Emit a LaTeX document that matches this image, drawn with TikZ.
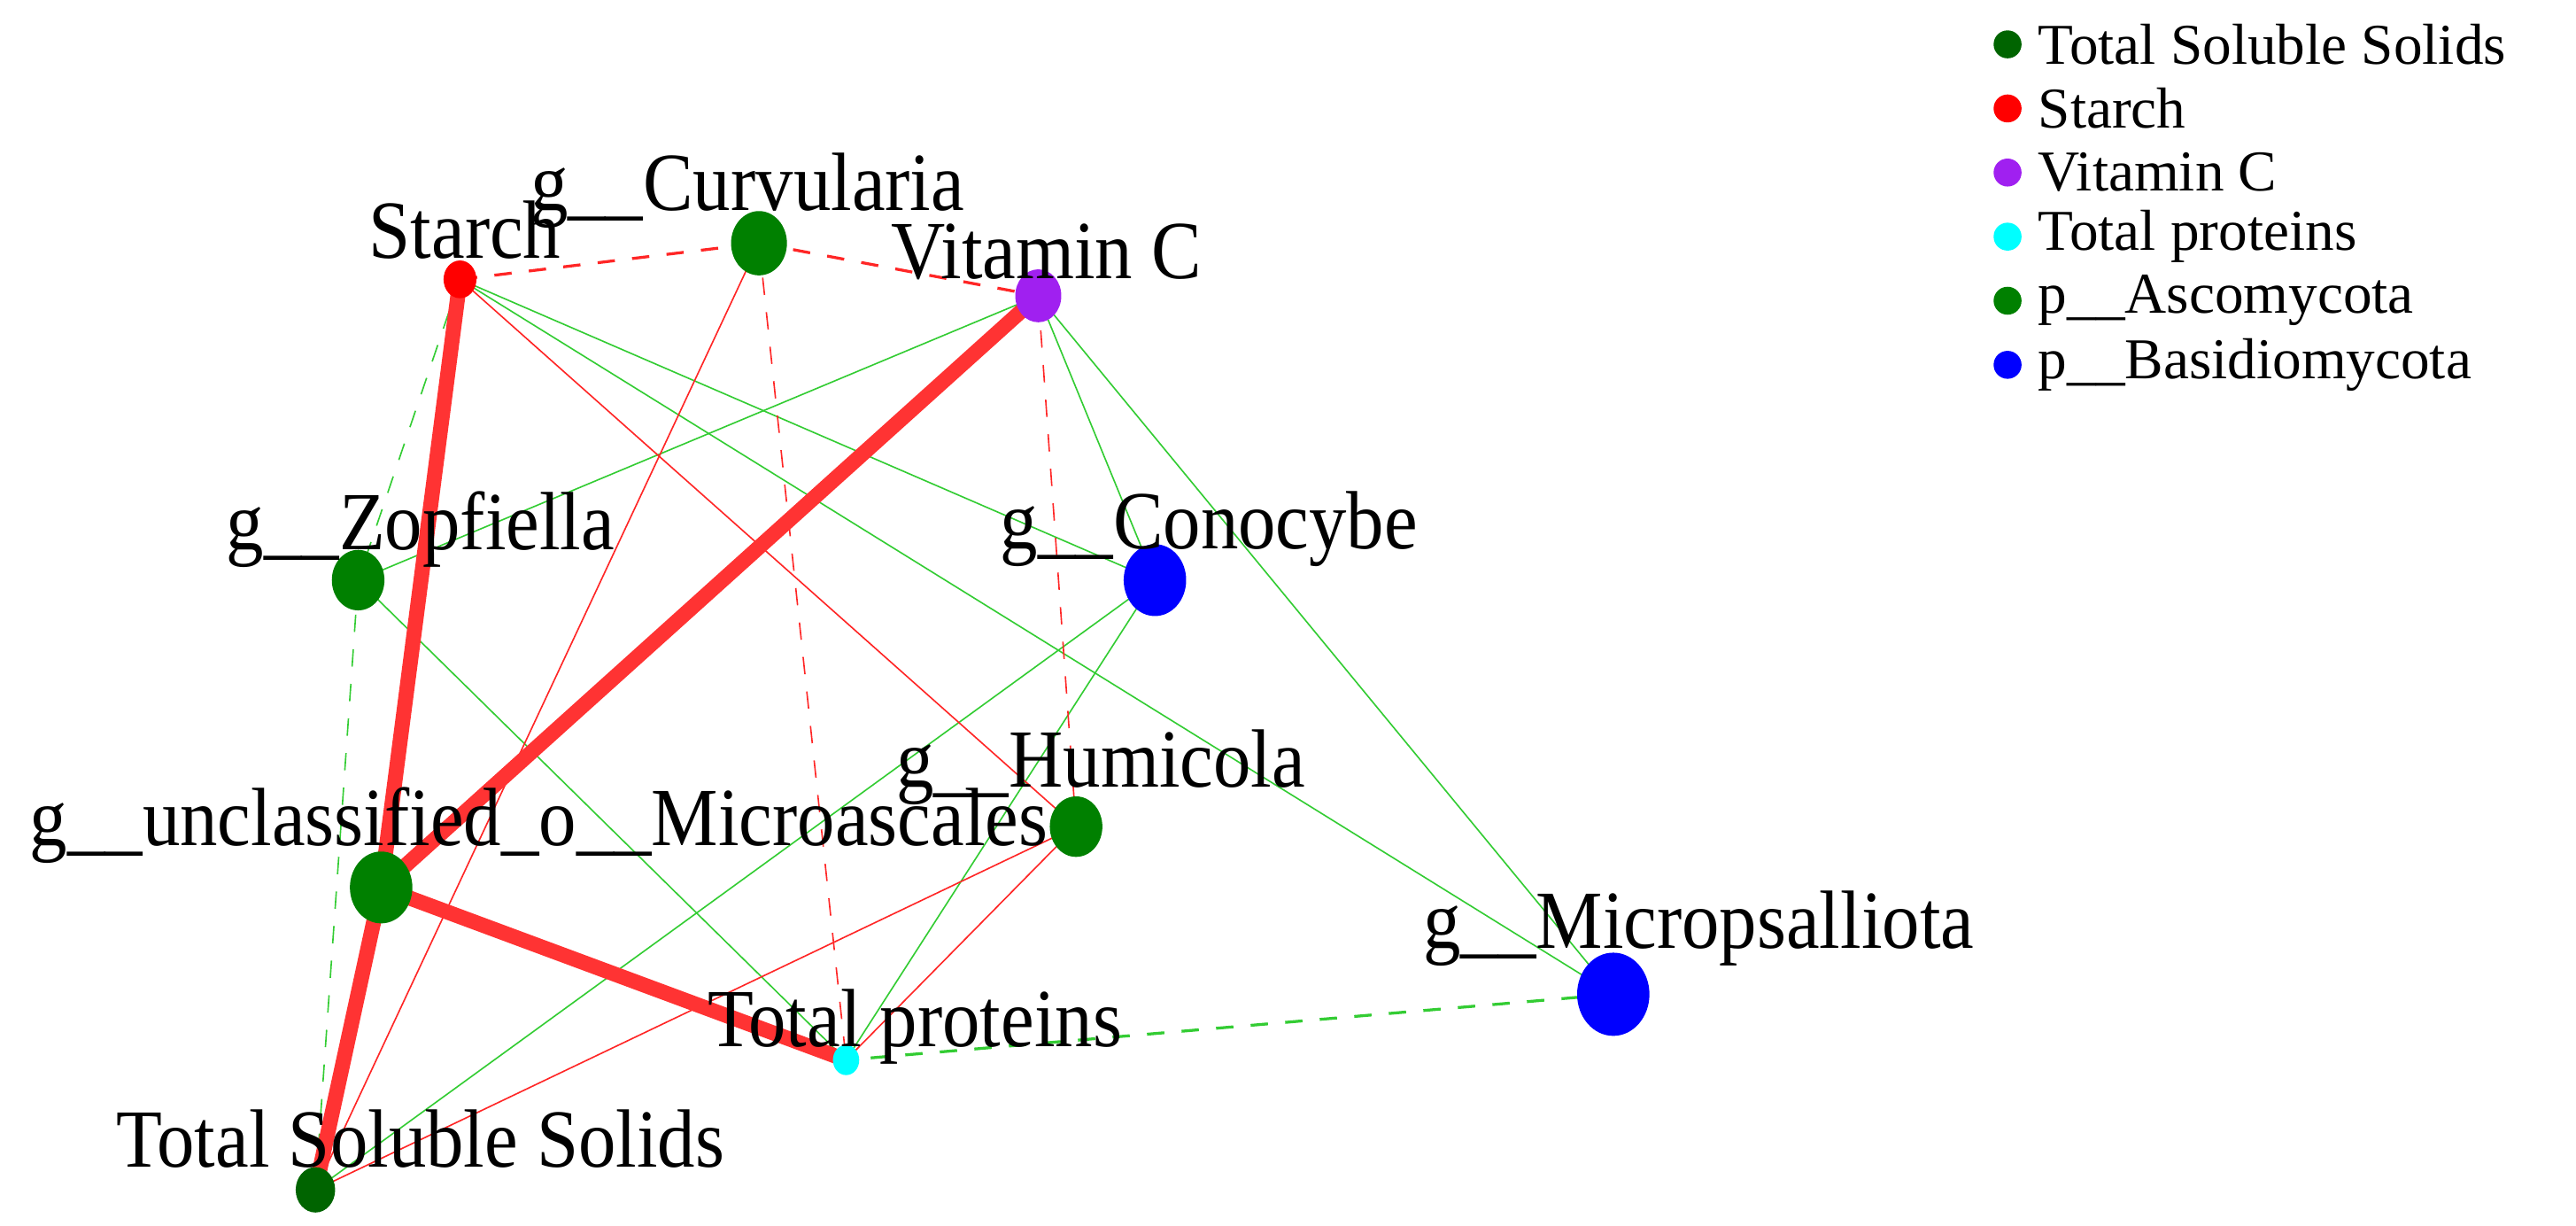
\documentclass[tikz,border=0pt]{standalone}
\usepackage{fontspec}
\setmainfont{Liberation Serif}
\begin{document}
\begin{tikzpicture}[x=0.01cm,y=-0.01cm,
  vtx/.style={ellipse,inner sep=0pt,minimum width=#1,minimum height=1.15*#1},
  lbl/.style={font=\fontsize{13}{14}\selectfont,inner sep=0pt,yscale=1.1},
  leg/.style={font=\fontsize{10}{11}\selectfont,anchor=west,inner sep=0pt},
  rd/.style={red!85!white,line width=0.25pt},
  gr/.style={green!75!black!80!white,line width=0.25pt},
  thick red/.style={red!80!white,line width=2.6pt}]
\useasboundingbox (0,0) rectangle (1568,746);
\usetikzlibrary{shapes.geometric}
\definecolor{dg}{RGB}{0,100,0}
\definecolor{ag}{RGB}{0,128,0}
\definecolor{vc}{RGB}{160,32,240}
\definecolor{cy}{RGB}{0,255,255}
\coordinate (st) at (280,170);
\coordinate (cu) at (462,148);
\coordinate (vc) at (632,180);
\coordinate (zo) at (218,353);
\coordinate (co) at (703,353);
\coordinate (hu) at (655,503);
\coordinate (un) at (232,540);
\coordinate (mi) at (982,605);
\coordinate (tp) at (515,645);
\coordinate (ts) at (192,724);
% green edges
\draw[gr,dashed] (st) -- (zo);
\draw[gr] (st) -- (co);
\draw[gr] (st) -- (mi);
\draw[gr] (vc) -- (zo);
\draw[gr] (vc) -- (co);
\draw[gr] (vc) -- (mi);
\draw[gr] (zo) -- (tp);
\draw[gr,dashed] (zo) -- (ts);
\draw[gr] (co) -- (ts);
\draw[gr] (co) -- (tp);
\draw[gr,dashed,line width=0.5pt] (mi) -- (tp);
% red edges
\draw[rd,dashed,line width=0.5pt] (st) -- (cu);
\draw[rd,dashed,line width=0.5pt] (cu) -- (vc);
\draw[rd,dashed] (cu) -- (tp);
\draw[rd,dashed] (vc) -- (hu);
\draw[rd] (st) -- (hu);
\draw[rd] (cu) -- (ts);
\draw[rd] (hu) -- (ts);
\draw[rd] (hu) -- (tp);
\draw[thick red] (st) -- (un);
\draw[thick red] (un) -- (ts);
\draw[thick red] (vc) -- (un);
\draw[thick red] (un) -- (tp);
% nodes
\node[vtx=0.2cm,fill=red] (nst) at (st) {};
\node[vtx=0.34cm,fill=ag] (ncu) at (cu) {};
\node[vtx=0.28cm,fill=vc] (nvc) at (vc) {};
\node[vtx=0.32cm,fill=ag] (nzo) at (zo) {};
\node[vtx=0.38cm,fill=blue] (nco) at (co) {};
\node[vtx=0.32cm,fill=ag] (nhu) at (hu) {};
\node[vtx=0.38cm,fill=ag] (nun) at (un) {};
\node[vtx=0.44cm,fill=blue] (nmi) at (mi) {};
\node[vtx=0.16cm,fill=cy] (ntp) at (tp) {};
\node[vtx=0.24cm,fill=dg] (nts) at (ts) {};
% labels
\node[lbl] (lst) at (283,140) {Starch};
\node[lbl] (lcu) at (455,116) {g\_\_Curvularia};
\node[lbl] (lvc) at (637,153) {Vitamin C};
\node[lbl] (lzo) at (256,322) {g\_\_Zopfiella};
\node[lbl] (lco) at (736,322) {g\_\_Conocybe};
\node[lbl] (lhu) at (670,467) {g\_\_Humicola};
\node[lbl] (lun) at (328,502) {g\_\_unclassified\_o\_\_Microascales};
\node[lbl] (lmi) at (1034,565) {g\_\_Micropsalliota};
\node[lbl] (ltp) at (557,625) {Total proteins};
\node[lbl] (lts) at (256,693) {Total Soluble Solids};
% legend
\foreach \c/\t [count=\i] in {dg/Total Soluble Solids,red/Starch,vc/Vitamin C,cy/Total proteins,ag/p\_\_Ascomycota,blue/p\_\_Basidiomycota}{
  \node[circle,fill=\c,inner sep=0pt,minimum size=0.17cm] (ld\i) at (1222,27+39*\i-39) {};
  \node[leg] (lt\i) at (1240,27+39*\i-39) {\t};
}
\end{tikzpicture}
\end{document}
